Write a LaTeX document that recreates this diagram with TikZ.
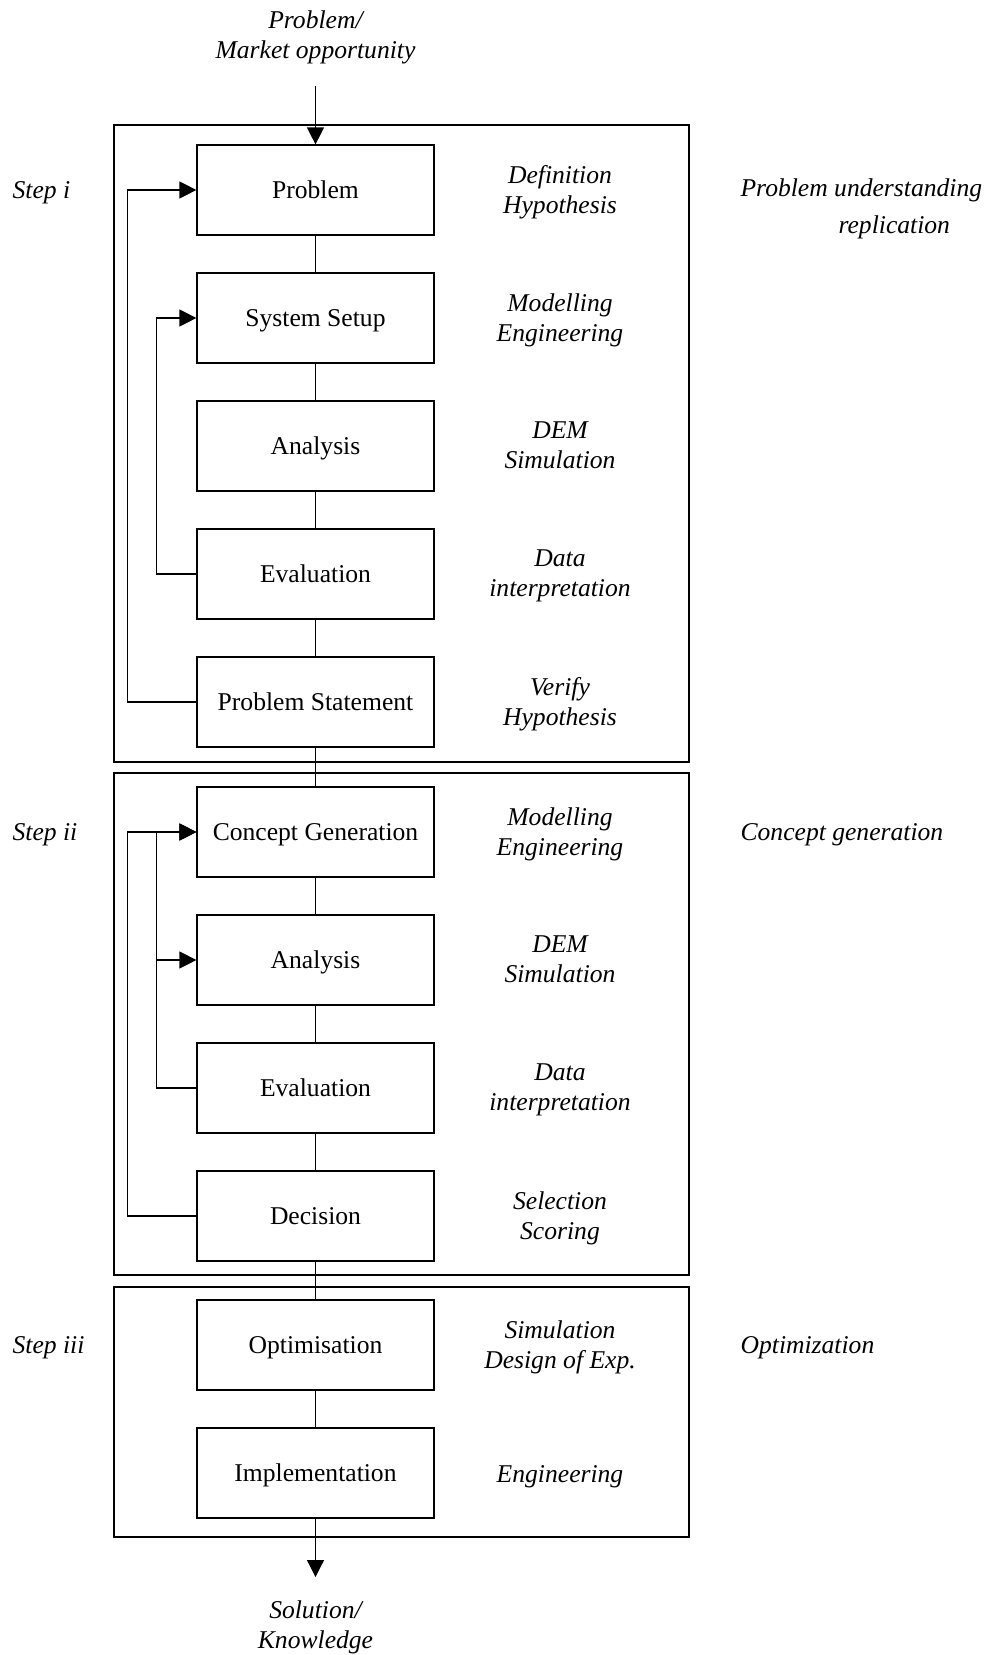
\documentclass[tikz,border=0pt]{standalone}
\usepackage{fontspec}
\setmainfont{Liberation Serif}
\usepackage{tikz}
\usetikzlibrary{arrows.meta}

\begin{document}
\begin{tikzpicture}[x=0.5pt, y=-0.5pt, line width=0.6pt, font=\fontsize{12.8}{15}\selectfont]

  % Styles for the process boxes, the notes beside them and the feedback arrows.
  \tikzset{
    process-box/.style={draw, rectangle, minimum width=118.5pt, minimum height=45pt, inner sep=0pt,
      text height=11pt, text depth=2.7pt},
    side-note/.style={font=\fontsize{12.8}{15}\selectfont\itshape, align=center, inner sep=0pt,
      execute at begin node=\strut, execute at end node=\strut},
    step-label/.style={side-note, anchor=west, align=left},
    flow/.style={-{Triangle[length=8.5pt, width=8.5pt]}}
  }

  \useasboundingbox (0,0) rectangle (989,1655);

  % Draw the three stage frames.
  \draw (114,125) rectangle (689,762);
  \draw (114,773) rectangle (689,1275);
  \draw (114,1287) rectangle (689,1537);

  % Place the input and the output texts.
  \node [side-note] (market-text) at (315.5,39) {Problem/\\Market opportunity};
  \coordinate (market-in) at (315.5,86);
  \node [side-note] (solution-text) at (315.5,1629) {Solution/\\Knowledge};
  \coordinate (solution-out) at (315.5,1577);

  % Place the boxes of step i.
  \node [process-box] (problem) at (315.5,190) {Problem};
  \node [process-box] (system-setup) at (315.5,318) {System Setup};
  \node [process-box] (analysis-i) at (315.5,446) {Analysis};
  \node [process-box] (evaluation-i) at (315.5,574) {Evaluation};
  \node [process-box] (problem-statement) at (315.5,702) {Problem Statement};

  % Place the boxes of step ii.
  \node [process-box] (concept-generation) at (315.5,832) {Concept Generation};
  \node [process-box] (analysis-ii) at (315.5,960) {Analysis};
  \node [process-box] (evaluation-ii) at (315.5,1088) {Evaluation};
  \node [process-box] (decision) at (315.5,1216) {Decision};

  % Place the boxes of step iii.
  \node [process-box] (optimisation) at (315.5,1345) {Optimisation};
  \node [process-box] (implementation) at (315.5,1473) {Implementation};

  % Place the notes beside the boxes.
  \node [side-note] (note-problem) at (560,194) {Definition\\Hypothesis};
  \node [side-note] (note-system-setup) at (560,322) {Modelling\\Engineering};
  \node [side-note] (note-analysis-i) at (560,450) {DEM\\Simulation};
  \node [side-note] (note-evaluation-i) at (560,578) {Data\\interpretation};
  \node [side-note] (note-problem-statement) at (560,706) {Verify\\Hypothesis};
  \node [side-note] (note-concept-generation) at (560,836) {Modelling\\Engineering};
  \node [side-note] (note-analysis-ii) at (560,964) {DEM\\Simulation};
  \node [side-note] (note-evaluation-ii) at (560,1092) {Data\\interpretation};
  \node [side-note] (note-decision) at (560,1220) {Selection\\Scoring};
  \node [side-note] (note-optimisation) at (560,1349) {Simulation\\Design of Exp.};
  \node [side-note] (note-implementation) at (560,1476) {Engineering};

  % Place the step names on the left and the stage names on the right.
  \node [step-label] (step-i) at (12,192) {Step i};
  \node [step-label] (step-ii) at (12,834) {Step ii};
  \node [step-label] (step-iii) at (12,1347) {Step iii};
  \node [step-label] (stage-i) at (740,210.5) {Problem understanding\\[3.5pt]\hspace*{49pt}replication};
  \node [step-label] (stage-ii) at (740,834) {Concept generation};
  \node [step-label] (stage-iii) at (740,1347) {Optimization};

  % Main flow through all boxes.
  \draw [flow] (market-in) -- (problem);
  \draw (problem) -- (system-setup) -- (analysis-i) -- (evaluation-i) -- (problem-statement)
    -- (concept-generation) -- (analysis-ii) -- (evaluation-ii) -- (decision)
    -- (optimisation) -- (implementation);
  \draw [flow] (implementation) -- (solution-out);

  % Feedback loops of step i.
  \draw [flow] (problem-statement.west) -- ++(-69,0) |- (problem.west);
  \draw [flow] (evaluation-i.west) -- ++(-40,0) |- (system-setup.west);

  % Feedback loops of step ii.
  \draw [flow] (decision.west) -- ++(-69,0) |- (concept-generation.west);
  \draw [flow] (evaluation-ii.west) -- ++(-40,0) |- (concept-generation.west);
  \draw [flow] (evaluation-ii.west) -- ++(-40,0) |- (analysis-ii.west);

\end{tikzpicture}
\end{document}
